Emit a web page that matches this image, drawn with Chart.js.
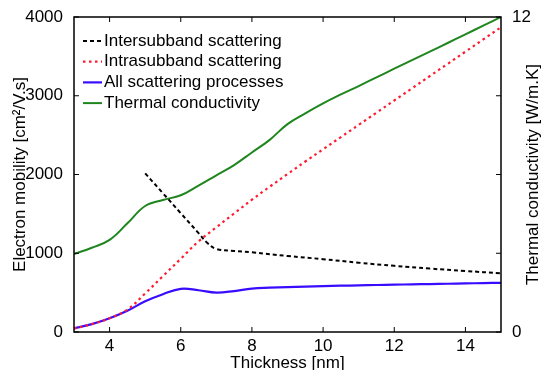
<!DOCTYPE html>
<html>
<head>
<meta charset="utf-8">
<script src="https://cdn.jsdelivr.net/npm/chart.js@4"></script>
<style>
    html, body { margin: 0; padding: 0; background: #fff; }
</style>
</head>
<body>
<canvas id="myChart" width="541" height="370"></canvas>
<script>
// values

const thickness = [3, 3.5, 4, 4.5, 5, 5.5, 6, 6.5, 7, 7.5, 8, 8.5, 9, 9.5, 10, 10.5, 11, 11.5, 12, 12.5, 13, 13.5, 14, 14.5, 15];

const allScattering = [45, 100, 175, 270, 390, 480, 548, 530, 500, 520, 552, 563, 571, 577, 583, 588, 592, 597, 601, 605, 609, 613, 617, 621, 625];

const intraSubband = [45, 100, 175, 285, 490, 710, 930, 1150, 1330, 1505, 1680, 1845, 2005, 2165, 2320, 2475, 2630, 2785, 2940, 3095, 3250, 3405, 3560, 3715, 3870];

const thermal = [2.97, 3.21, 3.51, 4.14, 4.8, 5.03, 5.21, 5.58, 5.97, 6.36, 6.84, 7.32, 7.92, 8.33, 8.71, 9.05, 9.37, 9.7, 10.03, 10.36, 10.68, 11.01, 11.34, 11.67, 12.0];

const interThickness = [5, 5.5, 6, 6.5, 6.75, 7, 7.5, 8, 9, 10, 11, 12, 13, 14, 15];
const interSubband = [2015, 1762, 1509, 1256, 1130, 1055, 1030, 1012, 965, 925, 880, 840, 805, 775, 745];

const xTicks = [4, 6, 8, 10, 12, 14];
const mobilityTicks = [0, 1000, 2000, 3000, 4000];
const thermalTicks = [0, 3, 6, 9, 12];
const thermalLabels = ["0", "", "", "", "12"];

const FONT = "'Liberation Sans', Arial, sans-serif";

function points(xs, ys) {
    return xs.map((x, i) => ({ x: x, y: ys[i] }));
}

// box round the plot with inward ticks, like the original
const axisBox = {
    id: "axisBox",
    afterDatasetsDraw(chart) {
        const ctx = chart.ctx;
        const a = chart.chartArea;
        const s = chart.scales;
        ctx.save();
        ctx.strokeStyle = "#000";
        ctx.lineWidth = 1.5;
        ctx.strokeRect(a.left, a.top, a.right - a.left, a.bottom - a.top);
        ctx.lineWidth = 1;
        ctx.beginPath();
        s.x.ticks.forEach(t => {
            const px = s.x.getPixelForValue(t.value);
            ctx.moveTo(px, a.bottom);
            ctx.lineTo(px, a.bottom - 5);
            ctx.moveTo(px, a.top);
            ctx.lineTo(px, a.top + 5);
        });
        s.y.ticks.forEach(t => {
            const py = s.y.getPixelForValue(t.value);
            ctx.moveTo(a.left, py);
            ctx.lineTo(a.left + 5, py);
        });
        s.y1.ticks.forEach(t => {
            const py = s.y1.getPixelForValue(t.value);
            ctx.moveTo(a.right, py);
            ctx.lineTo(a.right - 5, py);
        });
        ctx.stroke();
        ctx.restore();
    },
    afterDraw(chart) {
        const ctx = chart.ctx;
        const a = chart.chartArea;
        ctx.save();
        ctx.font = "17px " + FONT;
        ctx.fillStyle = "#000";

        // right axis title reads bottom to top
        ctx.save();
        ctx.translate(533, (a.top + a.bottom) / 2);
        ctx.rotate(-Math.PI / 2);
        ctx.textAlign = "center";
        ctx.textBaseline = "middle";
        ctx.fillText("Thermal conductivity [W/m.K]", 0, 0);
        ctx.restore();

        // legend in the top left corner
        ctx.textAlign = "left";
        ctx.textBaseline = "middle";
        chart.data.datasets.forEach((ds, i) => {
            const y = 41 + i * 20.7;
            ctx.save();
            ctx.strokeStyle = ds.borderColor;
            ctx.lineWidth = ds.borderWidth;
            ctx.setLineDash(ds.borderDash || []);
            ctx.beginPath();
            ctx.moveTo(83, y);
            ctx.lineTo(102, y);
            ctx.stroke();
            ctx.restore();
            ctx.fillText(ds.label, 104, y);
        });
        ctx.restore();
    }
};

const ctx = document.getElementById("myChart").getContext("2d");

const myChart = new Chart(ctx, {
    type: "line",
    data: {
        datasets: [
            {
                label: "Intersubband scattering",
                data: points(interThickness, interSubband),
                borderColor: "#000000",
                borderWidth: 2,
                borderDash: [4, 3],
                yAxisID: "y"
            },
            {
                label: "Intrasubband scattering",
                data: points(thickness, intraSubband),
                borderColor: "#ff1a2e",
                borderWidth: 2.2,
                borderDash: [2.5, 3.5],
                yAxisID: "y"
            },
            {
                label: "All scattering processes",
                data: points(thickness, allScattering),
                borderColor: "#3a0cff",
                borderWidth: 2.2,
                yAxisID: "y"
            },
            {
                label: "Thermal conductivity",
                data: points(thickness, thermal),
                borderColor: "#1f861f",
                borderWidth: 2,
                yAxisID: "y1"
            }
        ]
    },
    options: {
        responsive: false,
        animation: false,
        tension: 0.4,
        pointRadius: 0,
        layout: { padding: { top: 17, left: 0, right: 0, bottom: 0 } },
        plugins: {
            legend: { display: false },
            tooltip: { enabled: false }
        },
        scales: {
            x: {
                type: "linear",
                min: 3,
                max: 15,
                grid: { display: false },
                border: { display: false },
                afterBuildTicks: scale => {
                    scale.ticks = xTicks.map(v => ({ value: v }));
                },
                afterFit: scale => { scale.height = 38; },
                ticks: {
                    padding: -4,
                    color: "#000",
                    maxRotation: 0,
                    font: { family: FONT, size: 17 },
                    callback: value => String(value)
                },
                title: {
                    display: true,
                    text: "Thickness [nm]",
                    color: "#000",
                    padding: { top: 0, bottom: -2 },
                    font: { family: FONT, size: 17, lineHeight: 1 }
                }
            },
            y: {
                position: "left",
                min: 0,
                max: 4000,
                grid: { display: false },
                border: { display: false },
                afterBuildTicks: scale => {
                    scale.ticks = mobilityTicks.map(v => ({ value: v }));
                },
                afterFit: scale => { scale.width = 74; },
                ticks: {
                    padding: 3,
                    color: "#000",
                    font: { family: FONT, size: 17 },
                    callback: value => String(value)
                },
                title: {
                    display: true,
                    text: "Electron mobility [cm²/V.s]",
                    color: "#000",
                    padding: { top: 10, bottom: 0 },
                    font: { family: FONT, size: 17 }
                }
            },
            y1: {
                position: "right",
                min: 0,
                max: 12,
                grid: { display: false },
                border: { display: false },
                afterBuildTicks: scale => {
                    scale.ticks = thermalTicks.map(v => ({ value: v }));
                },
                afterFit: scale => { scale.width = 40; },
                ticks: {
                    padding: 3,
                    color: "#000",
                    font: { family: FONT, size: 17 },
                    callback: (value, index) => thermalLabels[index]
                }
            }
        }
    },
    plugins: [axisBox]
});
</script>
</body>
</html>
